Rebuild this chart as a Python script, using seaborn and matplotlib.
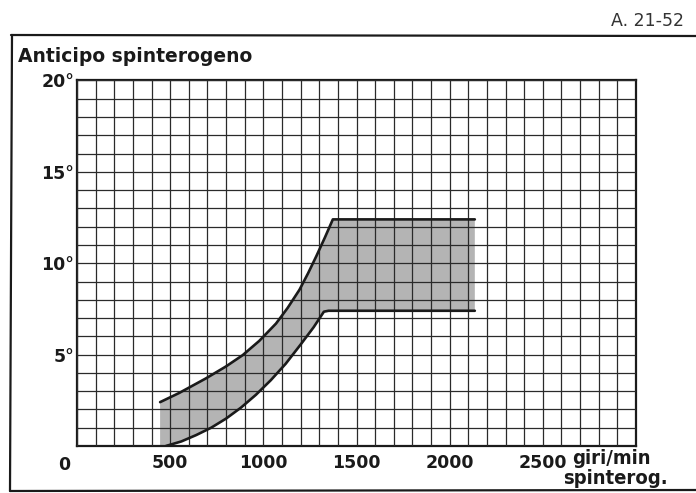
import numpy as np
import pandas as pd
import matplotlib
matplotlib.use("Agg")
import matplotlib.pyplot as plt
import seaborn as sns
from matplotlib.lines import Line2D

# ---- data ----
upper_rpm = [446, 548, 692, 799, 889, 978, 1068, 1130, 1194, 1240, 1285, 1330, 1373, 2135]
upper_deg = [2.4, 2.9, 3.7, 4.35, 4.97, 5.75, 6.7, 7.55, 8.55, 9.45, 10.4, 11.4, 12.4, 12.4]
lower_rpm = [446, 477, 560, 640, 720, 800, 880, 960, 1040, 1120, 1200, 1270, 1325, 1350, 2135]
lower_deg = [0.0, 0.0, 0.25, 0.6, 1.0, 1.5, 2.1, 2.8, 3.6, 4.5, 5.55, 6.5, 7.35, 7.4, 7.4]

x_ticks = [500, 1000, 1500, 2000, 2500]
x_ticklabels = ["500", "1000", "1500", "2000", "2500"]
y_ticks = [5, 10, 15, 20]
y_ticklabels = ["5°", "10°", "15°", "20°"]

title = "Anticipo spinterogeno"
ref_code = "A. 21-52"
x_unit = ["giri/min", "spinterog."]

sns.set_theme(style="white")
plt.rcParams['font.family'] = ['DejaVu Sans']

W, H = 696, 493
fig = plt.figure(figsize=(W / 100, H / 100), dpi=100)
ax = fig.add_axes([77 / W, 1 - 446 / H, (636 - 77) / W, (446 - 80.5) / H])

# band
poly_x = np.r_[upper_rpm, lower_rpm[::-1]]
poly_y = np.r_[upper_deg, lower_deg[::-1]]
ax.fill(poly_x, poly_y, facecolor="#b4b4b4", edgecolor="none", zorder=1)

up = pd.DataFrame({"rpm": upper_rpm, "deg": upper_deg})
lo = pd.DataFrame({"rpm": lower_rpm[1:], "deg": lower_deg[1:]})
sns.lineplot(data=up, x="rpm", y="deg", ax=ax, color="#1a1a1a", lw=1.9,
             sort=False, estimator=None, zorder=3)
sns.lineplot(data=lo, x="rpm", y="deg", ax=ax, color="#1a1a1a", lw=1.9,
             sort=False, estimator=None, zorder=3)

ax.set_xlim(0, 3000)
ax.set_ylim(0, 20)
ax.set_xticks(np.arange(0, 3001, 100), minor=True)
ax.set_yticks(np.arange(0, 21, 1), minor=True)
ax.set_xticks(x_ticks)
ax.set_xticklabels(x_ticklabels, fontsize=12.5, fontweight="bold", color="#1a1a1a")
ax.set_yticks(y_ticks)
ax.set_yticklabels(y_ticklabels, fontsize=12.5, fontweight="bold", color="#1a1a1a")
ax.tick_params(axis="both", which="both", length=0)
ax.tick_params(axis="x", pad=6)
ax.tick_params(axis="y", pad=2)
ax.grid(True, which="both", color="#2a2a2a", lw=0.9, zorder=2)
ax.set_axisbelow(False)
for sp in ax.spines.values():
    sp.set_visible(True)
    sp.set_color("#1a1a1a")
    sp.set_linewidth(1.6)
ax.set_xlabel("")
ax.set_ylabel("")

# origin label
ax.annotate("0", xy=(0, 0), xycoords="data", xytext=(-9, -7), textcoords="offset points",
            ha="center", va="top", fontsize=12.5, fontweight="bold", color="#1a1a1a")

# texts in figure pixel coordinates
def fx(px):
    return px / W

def fy(py):
    return 1 - py / H

fig.text(fx(18), fy(57), title, fontsize=13.5, fontweight="bold", color="#1a1a1a",
         ha="left", va="center")
fig.text(fx(684), fy(21), ref_code, fontsize=12.5, color="#333333", ha="right", va="center")
fig.text(fx(572), fy(458), x_unit[0], fontsize=14.5, fontweight="bold", color="#1a1a1a",
         ha="left", va="center", fontstretch="condensed")
fig.text(fx(668), fy(479), x_unit[1], fontsize=14.5, fontweight="bold", color="#1a1a1a",
         ha="right", va="center", fontstretch="condensed")

# outer frame
fig.add_artist(Line2D([fx(11), fx(696)], [fy(35), fy(36)], color="#1a1a1a", lw=1.6))
fig.add_artist(Line2D([fx(12), fx(10)], [fy(35), fy(491)], color="#1a1a1a", lw=1.6))
fig.add_artist(Line2D([fx(10), fx(696)], [fy(491), fy(490)], color="#1a1a1a", lw=1.6))

fig.savefig("out.png", dpi=100)
